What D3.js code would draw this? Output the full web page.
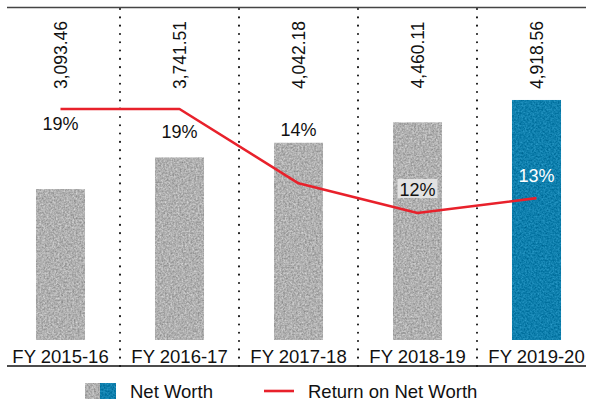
<!DOCTYPE html>
<html><head><meta charset="utf-8">
<script src="https://cdn.jsdelivr.net/npm/d3@7"></script>
<style>
html,body{margin:0;padding:0;background:#fff;}
text{font-family:"Liberation Sans",Arial,Helvetica,sans-serif;}
</style></head>
<body><svg id="c" width="590" height="403"></svg>
<script>
const categories = ["FY 2015-16","FY 2016-17","FY 2017-18","FY 2018-19","FY 2019-20"];
const netWorth = [3093.46, 3741.51, 4042.18, 4460.11, 4918.56];
const netWorthLabels = ["3,093.46","3,741.51","4,042.18","4,460.11","4,918.56"];
const ronw = [19, 19, 14, 12, 13];
const ronwLabels = ["19%","19%","14%","12%","13%"];
// layout-only: vertical offsets of the % labels relative to the line point
const ronwLabelDy = [21, 29, -47, -17, -16];

const svg = d3.select("#c");
const defs = svg.append("defs");
function noise(id, base, k, freq, seed){
  const f = defs.append("filter").attr("id", id)
    .attr("x",0).attr("y",0).attr("width",1).attr("height",1)
    .attr("color-interpolation-filters","sRGB");
  f.append("feTurbulence").attr("type","fractalNoise").attr("baseFrequency",freq)
    .attr("numOctaves",3).attr("seed",seed).attr("result","t");
  f.append("feColorMatrix").attr("in","t").attr("type","matrix")
    .attr("values",[
      k,0,0,0,base[0]-k*0.5,
      k,0,0,0,base[1]-k*0.5,
      k,0,0,0,base[2]-k*0.5,
      0,0,0,0,1].join(" "))
    .attr("result","c");
  f.append("feComposite").attr("in","c").attr("in2","SourceGraphic").attr("operator","in");
}
noise("nGray", [0.69,0.69,0.69], 0.4, 0.55, 4);
noise("nBlue", [0.06,0.50,0.68], 0.28, 0.55, 7);

const x = d3.scaleBand().domain(categories).range([1,596])
  .paddingInner(0.588).paddingOuter(0.294);
const y = d3.scaleLinear().domain([0,5000]).range([340,96]);
const yl = d3.scaleLinear().domain([12,19]).range([213,109]);
const cx = c => x(c) + x.bandwidth()/2;

// frame lines
svg.append("line").attr("x1",7).attr("x2",586).attr("y1",7.5).attr("y2",7.5)
  .attr("stroke","#444").attr("stroke-width",1.6);
svg.append("line").attr("x1",7).attr("x2",586).attr("y1",366).attr("y2",366)
  .attr("stroke","#111").attr("stroke-width",1.4);

// dotted separators
const seps = categories.slice(1).map((c,i)=> (cx(categories[i]) + cx(c))/2);
svg.selectAll("line.sep").data(seps).join("line").attr("class","sep")
  .attr("x1",d=>d).attr("x2",d=>d).attr("y1",9).attr("y2",368)
  .attr("stroke","#111").attr("stroke-width",2)
  .attr("stroke-dasharray","0.1 8.2").attr("stroke-linecap","round");

// bars
svg.selectAll("rect.bar").data(categories).join("rect").attr("class","bar")
  .attr("x",c=>x(c)).attr("width",x.bandwidth())
  .attr("y",(c,i)=>y(netWorth[i])).attr("height",(c,i)=>y(0)-y(netWorth[i]))
  .attr("fill",(c,i)=> i===4 ? "#1380ad" : "#aaa")
  .attr("filter",(c,i)=> i===4 ? "url(#nBlue)" : "url(#nGray)");

// value labels (rotated)
svg.selectAll("text.val").data(categories).join("text").attr("class","val")
  .attr("transform",c=>`translate(${cx(c)+6},55) rotate(-90)`)
  .attr("text-anchor","middle").attr("font-size",17.5).attr("fill","#111")
  .text((c,i)=>netWorthLabels[i]);

// line
const line = d3.line().x((d,i)=>cx(categories[i])).y(d=>yl(d));
svg.append("path").datum(ronw).attr("d",line)
  .attr("fill","none").attr("stroke","#e8212b").attr("stroke-width",2.6)
  .attr("stroke-linejoin","round");

// 12% label box
const boxIdx = 3;
svg.append("rect")
  .attr("x",cx(categories[boxIdx])-20).attr("y",yl(ronw[boxIdx])+ronwLabelDy[boxIdx]-17)
  .attr("width",40).attr("height",19).attr("fill","#e2e2e2");

// % labels
svg.selectAll("text.pct").data(categories).join("text").attr("class","pct")
  .attr("x",c=>cx(c)).attr("y",(c,i)=>yl(ronw[i])+ronwLabelDy[i])
  .attr("text-anchor","middle").attr("font-size",18)
  .attr("fill",(c,i)=> i===4 ? "#fff" : "#111")
  .text((c,i)=>ronwLabels[i]);

// category labels
svg.selectAll("text.cat").data(categories).join("text").attr("class","cat")
  .attr("x",c=>cx(c)).attr("y",363).attr("text-anchor","middle")
  .attr("font-size",18.5).attr("fill","#111").text(c=>c);

// legend
const lg = svg.append("g");
lg.append("rect").attr("x",85).attr("y",383).attr("width",15).attr("height",16)
  .attr("fill","#aaa").attr("filter","url(#nGray)");
lg.append("rect").attr("x",100).attr("y",383).attr("width",16).attr("height",16)
  .attr("fill","#1380ad").attr("filter","url(#nBlue)");
lg.append("text").attr("x",130).attr("y",398).attr("font-size",18.5).attr("fill","#111").text("Net Worth");
lg.append("line").attr("x1",264).attr("x2",294).attr("y1",391).attr("y2",391)
  .attr("stroke","#e8212b").attr("stroke-width",2.6);
lg.append("text").attr("x",308).attr("y",398).attr("font-size",18.5).attr("fill","#111").text("Return on Net Worth");
</script></body></html>
